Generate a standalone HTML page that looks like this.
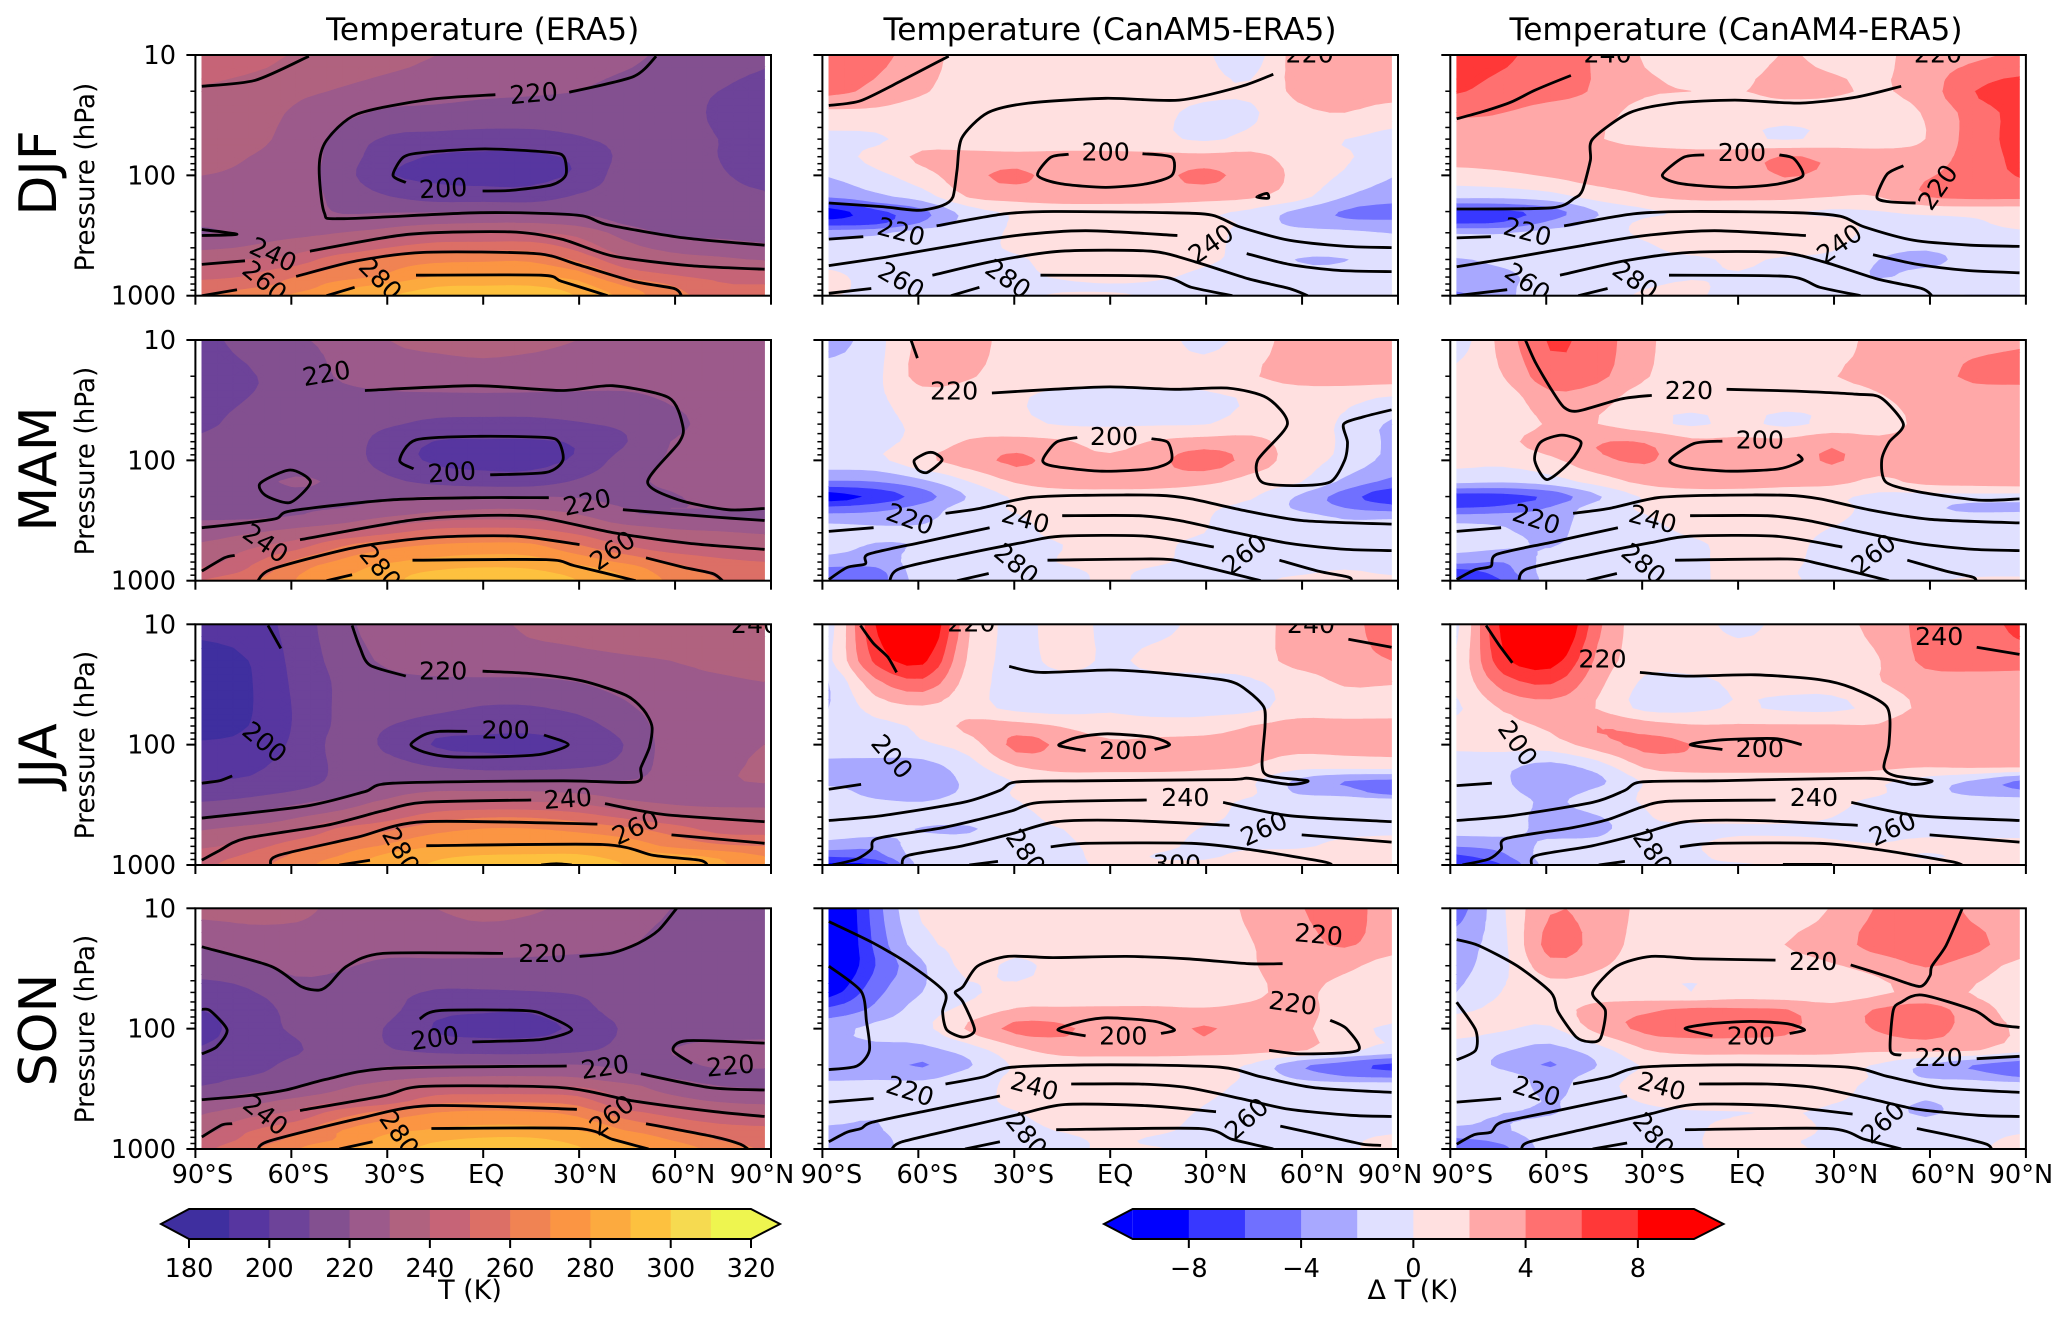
<!DOCTYPE html>
<html>
<head>
<meta charset="utf-8">
<title>Temperature climatology and model biases</title>
<style>
html,body{margin:0;padding:0;background:#fff;width:2067px;height:1321px;overflow:hidden}
svg{display:block}
text{font-family:"DejaVu Sans","Liberation Sans",sans-serif;fill:#000}
</style>
</head>
<body>
<svg id="chart" xmlns="http://www.w3.org/2000/svg" width="2067" height="1321" viewBox="0 0 2067 1321"></svg>
<script>
const lats=[-88,-73.33,-58.67,-44,-29.33,-14.67,0,14.67,29.33,44,58.67,73.33,88];
const levels=[10,20,30,50,70,100,150,200,250,300,400,500,700,850,1000];
const seasons=['DJF','MAM','JJA','SON'];
const models=['ERA5','CanAM5','CanAM4'];
const columnTitles=['Temperature (ERA5)','Temperature (CanAM5-ERA5)','Temperature (CanAM4-ERA5)'];
const tempLevels=[180,190,200,210,220,230,240,250,260,270,280,290,300,310,320];
const tempColors=['#3f2f9f','#5736a0','#6d4399','#835090','#9c5a8b','#b0627f','#c66477','#dc6f66','#f08353','#fb9543','#fcaa3f','#fdc13f','#f6da50','#eef54f'];
const diffLevels=[-10,-8,-6,-4,-2,0,2,4,6,8,10];
const diffColors=['#0000ff','#3838ff','#7070ff','#a8a8ff','#e0e0ff','#ffe0e0','#ffa8a8','#ff7070','#ff3838','#ff0000'];
const tempTicks=[180,200,220,240,260,280,300,320];
const diffTicks=[-8,-4,0,4,8];
const latTicks=[-90,-60,-30,0,30,60,90];
const latTickLabels=['90°S','60°S','30°S','EQ','30°N','60°N','90°N'];
const pressureTicks=[10,100,1000];
const pressureMinorTicks=[20,30,40,50,60,70,80,90,200,300,400,500,600,700,800,900];

const field_DJF_ERA5=[
[250,245,239,236,233,230,228,226,224,222,218,214,211],
[238,235,232,229,226,224,222,221,220,217,214,210,208],
[236,233,229,223,218,217,216,216,215,214,213,209,207],
[235,232,227,216,208.5,207,206,206,209,212,212,210,207],
[233,230,226,215,204,199,198,198,202,212,212,210,206],
[230,228,225,214,200.5,198,197,197,201.5,214,213,211,207],
[226,225,224,217,210,205,204.5,204.5,211,214,214,213,211],
[222,223,224,219,219,219,220,219,218,216,215,214,213],
[221,222,224,224,227,229,230,230,227,219,216,214,214],
[219,224,227,230,234,238,240,240,237,226,218,217,216],
[228,231,236,241,250,256,256,256,247,234,227,225,222],
[237,240,244,257,264,267,268,268,258,242,235,232,229],
[247,251,260,266,272,281,281,281,276,259,252,247,246],
[256,259,264,277,284,290,291,291,285,271,261,252,251],
[260,263,272,281,289.5,293,296,296,289.5,277,263,258,257]];
const field_MAM_ERA5=[
[208,213,219,222,230,232,233,232,230,227,226,225,224],
[206,209,215,221,224,225,226,225,224,224,224,223,223],
[208,210,214,217,218,218,218,218,218,218,221,222,222],
[209,212,214,214,211,207.5,207,207,209,212,218,222,222],
[211,213,214,214,206,199.5,199,199,201,209,220,222,222],
[213,214,215,215,205,198.5,197,197,201.5,214,221,224,225],
[215,217,221,218,212,207,205,205,211,217,222,225,225],
[216,217,217,218,219,220,220,220,219,217,219,223,224],
[216,216,219,220,223,227,229,229,226,220,220,220,220],
[219,219,221,225,231,236,238,237,233,223,221,220,219],
[225,229,234,240,248,255,256,255,248,239,233,231,229],
[231,237,244,258,266,270,272,271,260,249,241,238,236],
[236,247,262,272,279,283,285,284,277,268,259,253,250],
[244,252,268,277,286,291,293,292,286,278,265,258,255],
[250,258,270,281,288,294,296,296,290,280,268,260,256]];
const field_JJA_ERA5=[
[192,195,204,217,225,226,228,231,232,234,236,238,241],
[187,190,203,214,222,225,226,227,228,229,230,232,233],
[186,189,202,212,217,218,218,218,220,224,228,229,230],
[186,189,201,212,214,212,209,209,212,218,225,227,228],
[187,190,201,212,210,205,203,203,206,214,224,227,228],
[191,193,202,213,208,199,198,197,201,210,224,227,230],
[197,198,204,212,213,209,206,206,208,213,224,228,231],
[200,201,205,213,218,219,220,220,220,220,223,228,231],
[205,207,211,217,226,231,231,231,229,226,224,224,225],
[210,213,218,224,233,240,240,240,238,232,228,226,226],
[220,223,229,236,246,255,259,259,255,248,241,239,238],
[229,233,238,252,258,266,270,270,267,262,255,246,245],
[238,245,256,264,272,280,281,281,281,277,268,262,260],
[245,252,262,271,283,288,291,292,292,286,283,278,270],
[248,256,265,277,286,291,296,300,298,290,285,282,272]];
const field_SON_ERA5=[
[233,233,232,228,228,230,232,231,228,225,220,216,214],
[221,225,226,226,225,225,225,224,223,221,216,213,211],
[215,217,223,221,217,217,217,217,216,215,214,212,211],
[205,209,215,215,212.5,209,209,209.5,210.5,213,213,213,212],
[200,206,212,214,212,203,201,201,207,213,214,213,213],
[196,206,211,214,209,199,197,197,202,211,214,215,215],
[201,206,209,214,210.5,207,206,206,208,213,220,223,224],
[204,207,212,216,219,220,220,220,220,218,218,221,221],
[208,210,214,220,226,229,230,230,229,222,219,218,218],
[210,215,218,228,235,240,240,240,239,233,225,220,219],
[221,226,233,239,245,256,258,258,255,240,234,229,227],
[229,236,242,255,264,270,272,271,267,254,246,240,238],
[236,249,257,270,277,281,283,283,280,270,262,255,253],
[243,253,263,272,284,289,292,292,287,278,270,260,257],
[248,258,269,281,287,292,296,296,291,283,277,266,259]];
const field_DJF_CanAM5=[
[5,4.5,3,1,1,1,1,0.5,0.3,-1,3,4,3.5],
[4.5,3.5,2.2,1,1,1,1,1,0.5,0.3,2.5,3,3],
[1.5,1.5,1,1,0.2,0.1,1,0.5,-0.5,-0.3,1.5,2,1],
[-0.5,-0.3,0.8,0.8,0.8,0.8,0.8,0.5,-0.3,0.5,0.8,0,-0.5],
[-0.8,0.6,2.4,2.6,2.5,2.5,2.5,2.5,2.5,2.5,1.2,0.2,-0.7],
[-1.9,-0.6,1.2,3.4,4.4,3,2.9,3.5,4.4,3.2,1.5,-0.3,-1.9],
[-3.8,-2.5,-1,2.2,2.8,3,3,3,2.8,2.3,0.8,-2,-3],
[-9,-6.5,-4.5,-1,0.4,0.8,0.8,0.7,0.3,-0.4,-2.5,-4.2,-5],
[-7,-6.5,-3.8,-1.2,0.2,0.6,0.6,0.6,0.4,-0.4,-2.8,-3.5,-3.5],
[-3,-2.5,-1,-0.8,0.3,0.8,0.8,0.8,0.5,-0.5,-1,-1.5,-2.1],
[-0.8,-0.8,-0.8,-0.7,0.3,0.8,0.8,0.8,0.4,-0.5,-0.9,-0.9,-0.8],
[-0.8,-0.8,-0.8,-0.8,-0.3,0.8,0.8,0.7,0.2,-0.5,-2.1,-2.1,-1],
[0.5,-0.8,-0.8,-0.8,-0.4,0.2,0.8,0.2,-0.3,-0.6,-1,-1,-0.8],
[0.5,-0.6,-0.6,-0.6,-0.6,-0.5,-0.4,-0.4,-0.5,-0.5,-0.7,-0.7,-0.7],
[0.1,-0.5,-0.3,-0.5,-0.5,0.3,0.3,-0.3,-0.5,-0.5,-0.6,-1,-0.6]];
const field_DJF_CanAM4=[
[7.5,6.5,4.8,3.8,1.8,1,1,2.1,1.5,1.5,3,3.5,4.3],
[6.2,5,4.5,3.8,2.3,2,1.9,2.5,2.3,1.8,3,5.9,7],
[4.2,4,3.5,3,1,0.8,0.8,0.8,0.8,0.8,2.2,4.8,6.6],
[3.5,3.5,3.5,2.2,0.8,0.5,0.5,-0.2,0.5,0.7,2,4.8,6.6],
[3,3,3.5,3.9,3.5,3,3,4.1,3.5,3,3,4.8,6.4],
[1,1.5,2.2,3,3,3,3,4.1,3.5,3,3.8,4.8,6.1],
[-1.5,-1.5,-0.8,0.8,1.9,2.5,2.5,2.5,2,2,4,4.5,4.5],
[-7,-6.5,-5,-2,-0.4,0.2,0.3,0.2,-0.3,-0.1,0.5,0.7,0.8],
[-6.2,-5.8,-3.5,-1.5,0.4,0.8,0.8,0.8,0.6,-0.5,-0.6,-0.3,0.5],
[-2.2,-2.2,-1.2,-0.8,0.3,0.8,0.8,0.8,0.6,-0.5,-0.7,-0.7,-0.3],
[-1,-0.8,-0.8,-0.8,-0.3,0.6,0.6,0.6,0.2,-1.2,-1.7,-0.8,-0.8],
[-2.2,-1.5,-1,-0.8,-0.5,-0.3,0.2,-0.2,-0.5,-2,-2.8,-1,-0.8],
[-3,-2.5,-1,-0.8,-0.5,-0.1,-0.1,-0.4,-0.6,-2.2,-1,-0.8,-0.8],
[-3.5,-2.5,-0.8,-0.8,-0.1,0.2,-0.4,-0.6,-0.7,-0.8,-0.8,-0.8,-0.8],
[-4.5,-2.5,-0.9,-0.7,0.2,0.2,-0.5,-0.6,-0.7,-1,-1.8,-2.2,-2.2]];
const field_MAM_CanAM5=[
[-3,-0.8,2.6,3,0.8,0.8,0.5,0.7,-0.6,0.8,3,3.2,3.2],
[-1,-0.5,2.8,2.2,0.8,0.8,0.8,0.8,0.8,1.8,2.8,3,3],
[-0.5,-0.3,1,0.8,0.2,-0.5,-0.6,-0.6,-0.4,0.2,0.8,0.6,-0.2],
[-0.5,-0.4,0.3,0.7,0.5,-0.2,-0.2,-0.2,-0.1,0.7,0.8,-0.3,-2.3],
[-0.7,-0.5,0.6,2.2,2.6,2.2,1.2,2.2,2.8,2.6,1,-0.3,-2.4],
[-0.8,-0.5,1.5,3,4.4,3,2.4,3.5,5,3.2,1,-0.6,-2.6],
[-4.2,-4,-2.5,0,2.2,3,3,3,2.5,1.2,0.2,-2.5,-4.5],
[-9,-7.5,-5,-1.8,0.3,0.8,0.9,0.8,0.5,0.2,-2.2,-5,-7.5],
[-5.5,-4.8,-3.2,-1,0.2,0.8,0.8,0.8,0.2,-0.5,-2.3,-4,-5],
[-3,-3,-2.5,-0.8,-0.2,0.7,0.8,0.7,0.1,-0.6,-1,-2.2,-2.2],
[-0.8,-1.4,-1.5,-0.8,-0.5,0.5,0.8,0.5,0,-0.6,-0.8,-0.8,-0.8],
[-0.9,-2.2,-1.8,-0.8,-0.6,0,0.8,0.3,-0.4,-0.7,-0.7,-0.7,-0.7],
[-3,-3.2,-1,-0.7,-0.6,0.1,0.6,0.2,-0.5,-0.7,-0.7,-0.7,-0.7],
[-5,-4.8,-0.8,-0.6,-0.5,-0.4,0.3,-0.4,-0.6,-0.5,-0.3,0.2,-0.3],
[-6,-5,-1,-0.6,-0.5,-0.4,0.2,-0.4,-0.5,-0.4,0.4,0.6,0.5]];
const field_MAM_CanAM4=[
[-1,2.8,6.2,5,2.5,0.8,0.4,0.8,0.9,2.8,3.2,3.5,3.8],
[0.5,2,5.2,4.5,2.2,0.8,0.8,0.8,1.9,2.6,3.2,4.3,4.5],
[0.8,1,3.4,2.8,1,0.8,0.8,0.8,0.8,1.8,2.8,3,3],
[0.8,0.8,2.2,2,0.8,-0.3,0.5,-0.4,0.5,1,2.6,3,3],
[0.8,1.5,3,3.9,3.9,2.5,2.5,2.5,3.5,2.5,3,3,3],
[0.5,0.5,1.5,3.5,4.2,3,3,3,4.2,3,3,3,3],
[-1.5,-1.8,-1,0.8,2.5,3,3,2.6,2.6,1.5,2.6,2.8,3],
[-7,-6.8,-5.5,-2.3,0.2,0.8,0.8,0.8,0.4,-0.5,-0.8,-0.8,-0.9],
[-6,-5.5,-3.8,-1,0.2,0.8,0.9,0.9,0.5,-0.6,-1.5,-2.6,-2.6],
[-3,-2.8,-3,-0.9,-0.2,0.8,0.8,0.8,0.3,-0.6,-0.8,-1,-0.8],
[-0.8,-1.7,-2.6,-0.8,-0.6,0.2,0.7,0.6,-0.2,-0.7,-0.7,-0.7,-0.7],
[-1,-1.5,-2.2,-0.8,-0.6,-0.3,0.5,0.4,-0.4,-0.7,-0.7,-0.7,-0.7],
[-3.5,-4,-1.2,-0.7,-0.7,-0.3,0.4,0.3,-0.5,-0.7,-0.7,-0.7,-0.7],
[-7,-5,-1,-0.6,-0.5,-0.3,0.4,0.2,-0.6,-0.6,-0.5,-0.5,-0.5],
[-7,-6,-1,-0.6,-0.5,-0.3,0.4,0.3,-0.6,-0.6,-0.3,0.3,0.4]];
const field_JJA_CanAM5=[
[-1,8,11,2.1,-0.5,0.8,-0.5,-0.5,0.5,0.8,3,3.3,5],
[-0.5,6.5,8.5,1.5,-0.5,0.5,-0.2,0.4,0.7,0.8,2.8,3.2,4],
[-2,3.5,5.5,1,-0.6,-0.5,-0.5,-0.5,-0.5,-0.2,0.8,2.3,2.2],
[-2,0.8,1.6,0.8,-0.5,-0.7,-0.2,-0.6,-0.6,-0.5,0.8,0.8,0.9],
[-0.8,-0.5,0.4,2.5,2.7,1.8,0.8,0.8,0.9,2,2.8,2.8,2.8],
[-0.8,-0.6,-0.3,1,4.6,3.5,2.4,2.6,2.8,2.8,2.6,2.6,2.6],
[-2.6,-2.8,-2.7,-0.8,2,2.8,2.8,2.8,2.5,2,0.8,0.9,1],
[-2.8,-3,-3,-1.6,0.1,0.8,0.6,0.6,0.5,0.3,-2.4,-4,-4.5],
[-1,-2.8,-3,-1.5,0.2,0.8,0.8,0.8,0.8,0.3,-2.3,-3,-5],
[-0.7,-1.6,-2,-0.9,-0.1,0.8,0.8,0.8,0.8,-0.4,-0.6,-0.7,-0.7],
[-0.6,-0.6,-0.8,-0.7,-0.4,0.4,0.8,0.8,0.4,-0.5,-0.7,-0.7,-0.7],
[-0.7,-1,-2.2,-2.3,-0.5,0,0.8,0.6,-0.1,-0.5,-0.6,-0.5,-0.5],
[-3,-3.5,-0.8,-0.6,-0.6,-0.3,0.5,0.3,-0.3,-0.2,-0.2,0.4,0.8],
[-6,-5,-0.9,-0.5,-0.5,-0.4,0.4,-0.1,-0.2,0.4,0.6,0.7,0.7],
[-8.5,-8,-1,-0.5,-0.5,-0.3,0.2,0.3,0.3,0.6,0.7,0.7,0.7]];
const field_JJA_CanAM4=[
[-0.5,8.8,12.2,4.5,0.8,0.8,-0.5,0.5,1,2.8,4.5,4.8,6.5],
[0.3,7.5,9,3.5,0.8,0.8,0.8,0.8,0.8,1.9,4.5,5,5],
[0.5,5,6.3,2.6,-0.3,-0.4,0.3,0.6,0.7,1.9,3,3,3],
[-0.3,2.2,3,1.9,-0.5,-0.5,0.2,-0.3,-0.4,0.6,2.5,3,3],
[0.6,1.5,2.3,4,3,2.2,2.2,2.2,2.2,2.2,4,3.3,3],
[0.3,0.7,1,3,4.5,4,3,3,3,3,3,3,3],
[-0.8,-1.5,-2.6,-1,2.3,3,3,3,3,2.6,2.2,2.5,2.5],
[-0.9,-1.8,-3,-2.5,0.2,0.7,0.7,0.7,0.6,0.3,-0.8,-2.2,-4.2],
[-0.9,-1.5,-2.8,-1.5,0.2,0.9,0.9,0.9,0.8,0.2,-1.2,-2.6,-3.5],
[-0.7,-0.9,-2.4,-0.8,0.1,0.8,0.8,0.9,0.5,-0.5,-0.7,-0.7,-0.7],
[-0.7,-1,-2.8,-2.2,-0.2,0.5,0.7,0.7,0,-0.6,-0.6,-0.7,-0.7],
[-1,-1.2,-2.7,-2.6,-0.5,-0.5,-0.4,-0.4,-0.4,-0.5,-0.5,-0.5,-0.5],
[-4,-3.2,-1.5,-1.2,-0.5,-0.2,0.7,0.7,0.3,0.1,0.4,0.4,0.4],
[-6.5,-4.5,-0.9,-0.5,-0.4,-0.3,0.5,0.5,0.6,0.6,-0.2,0.4,0.6],
[-8,-6,-1,-0.5,-0.4,-0.2,-0.2,0.2,0.5,0.6,0.6,0.7,0.7]];
const field_SON_CanAM5=[
[-12,-5,0.4,0.9,0.9,0.9,0.3,0.9,0.9,2.4,3.8,4.8,3],
[-12,-5.5,-0.8,0.7,0.9,0.9,0.9,0.9,0.9,1.9,3.2,4.2,3],
[-11.5,-6,-2.3,0.6,-0.4,0.7,0.9,0.9,0.9,1.8,3,2.5,1],
[-9,-4.6,-2,-0.3,0.5,0.8,0.8,0.8,0.8,1.5,2.6,1,0.8],
[-5.5,-3.5,-1,0.6,2.2,2.3,2.3,2.3,2.2,2.5,2.8,1,0.8],
[-2.6,-1.5,-0.6,2.3,4.5,4.3,3,3,4.2,3,2.5,0.7,-0.3],
[-2.6,-2.5,-2.6,-1,1.5,2.8,2.8,2.8,2.8,2.6,2.3,0.5,-0.6],
[-3,-3,-4.2,-2.2,0.3,0.8,0.8,0.8,0.6,-0.2,-3.5,-5,-6.5],
[-3,-2.7,-2.7,-1,0.3,0.8,0.8,0.8,0.6,-0.3,-2.6,-4,-4.5],
[-0.9,-0.8,-1.2,-0.5,0.3,0.9,0.9,0.9,0.5,-0.4,-0.8,-0.9,-0.9],
[-0.8,-0.8,-0.7,-0.6,0.4,0.9,0.9,0.9,0.1,-0.6,-0.7,-0.7,-0.7],
[-1.2,-1.8,-0.8,-0.6,-0.1,0.7,0.8,0.7,-0.2,-0.6,-0.7,-0.7,-0.7],
[-2.3,-2.2,-0.9,-0.6,-0.4,0.1,0.7,0.3,-0.5,-0.6,-0.6,-0.6,-0.3],
[-2.6,-2.5,-1,-0.6,-0.4,-0.4,0.3,-0.3,-0.6,-0.6,-0.5,-0.3,0.4],
[-2.8,-2.6,-1,-0.5,-0.4,-0.3,0.2,0.1,-0.4,-0.5,-0.5,-0.3,0.6]];
const field_SON_CanAM4=[
[-5,-0.2,3.8,3.2,1.5,0.8,0.2,0.8,2.1,4.2,5.3,3.5,2.8],
[-3,-0.5,4.8,3.2,1.2,0.9,0.9,2,3,4.8,5.5,4.6,3],
[-2.6,-0.5,3.2,2.3,0.9,0.9,0.9,1,1.8,2.7,4.1,3,1.5],
[-2,0.1,0.8,0.8,0.6,0,0.7,0.5,0.7,1.6,2.6,1.9,0.8],
[-0.3,0.5,1,2.8,3.6,4.4,4.3,4.1,2.8,4.2,4.8,3,1.2],
[0.6,0.2,-0.3,2.6,4.4,4.8,4.8,4.4,3,4.2,5,3,1.8],
[-0.8,-1.8,-2.7,-0.9,1.9,2.6,2.6,2.6,2.5,2.3,2.5,2.2,0.9],
[-0.9,-2.5,-4.2,-2,0.2,0.8,0.8,0.8,0.6,-0.2,-2.2,-4,-5.5],
[-0.9,-1.2,-2.8,-1.2,0.5,0.9,0.9,0.9,0.7,-0.3,-2.3,-2.8,-4.2],
[-0.8,-0.8,-2.6,-0.7,0.6,0.9,0.9,0.9,0.5,-0.4,-0.7,-0.8,-0.8],
[-0.7,-0.7,-2.2,-0.7,0.1,0.7,0.9,0.8,0.1,-0.5,-2.1,-0.7,-0.6],
[-1.5,-2,-2.2,-0.7,-0.4,-0.2,-0.1,0.1,-0.3,-0.8,-2.4,-0.8,-0.6],
[-2.3,-2.2,-0.9,-0.6,-0.5,-0.3,0.7,0.7,-0.3,-0.6,-0.6,-0.5,-0.2],
[-4.5,-3.5,-1,-0.6,-0.5,-0.2,0.6,0.2,-0.4,-0.6,-0.5,-0.4,0.3],
[-5,-4.5,-1,-0.5,-0.4,-0.2,0.5,0.3,-0.3,-0.4,-0.4,-0.3,0.6]];

/* Contour lines: [kelvin, [[latitude, log10(hPa)], ...]] */
const contours_DJF_ERA5=[
[240,[[-88,1.26],[-71.3,1.21],[-54.5,1.01]]],
[220,[[54.1,1.01],[46.9,1.18],[26.9,1.31]]],
[220,[[3.8,1.33],[-17,1.37],[-39.4,1.49],[-49,1.71],[-51.3,1.93],[-49.7,2.31],[-44.2,2.36],[-1,2.31],[29.3,2.33],[38.9,2.41],[62.9,2.52],[88,2.58]]],
[220,[[-88,2.45],[-77,2.49],[-88,2.5]]],
[240,[[-88,2.74],[-74.5,2.71]]],
[240,[[-54.2,2.63],[-23.4,2.49],[8.6,2.47],[24.5,2.53],[40.5,2.67],[64.5,2.75],[88,2.78]]],
[260,[[-88,3],[-77,2.95]]],
[260,[[-58.5,2.84],[-39.4,2.71],[-18.6,2.64],[16.5,2.65],[29.3,2.74],[46.9,2.88],[59.7,2.94],[62,3]]],
[280,[[-49,3],[-40.2,2.93]]],
[280,[[-21,2.83],[18.1,2.83],[24.5,2.88],[38.9,3]]],
[200,[[-24.2,2.06],[-28.2,2],[-25,1.85],[-18.6,1.81],[0.6,1.78],[21.3,1.81],[25.3,1.85],[25.8,2],[21.3,2.08],[8.6,2.125],[-0.2,2.13]]]];
const labels_DJF_ERA5=[[220,15.8,1.32,-5],[200,-12.5,2.11,-3],[240,-65.7,2.66,25],[260,-68.4,2.88,40],[280,-32.2,2.86,45]];
const contours_DJF_CanAM5=[
[240,[[-88,1.42],[-78,1.38],[-65,1.21],[-50.5,1.01]]],
[220,[[51,1.16],[41,1.26],[21.6,1.375],[-1.4,1.36],[-25.6,1.4],[-38.3,1.48],[-46.4,1.69],[-47.9,1.96],[-49.2,2.18],[-52.4,2.25],[-60,2.29],[-71.5,2.26],[-88,2.23]]],
[200,[[-13,1.825],[-18.6,1.85],[-22.7,2],[-15.4,2.07],[-1.4,2.1],[11.4,2.07],[19.3,2],[19.3,1.85],[10.1,1.82]]],
[220,[[45.8,2.18],[49,2.15],[49.4,2.19],[45.8,2.18]]],
[220,[[-88,2.53],[-77.2,2.51]]],
[220,[[-54.3,2.42],[-33.2,2.32],[-17.9,2.3],[17.8,2.31],[31.8,2.33],[40.7,2.43],[56,2.54],[73.9,2.59],[88,2.6]]],
[240,[[-88,2.75],[-70.2,2.68],[-48.5,2.58],[-29.4,2.5],[-7.7,2.46],[21,2.5]]],
[240,[[42.7,2.65],[56,2.74],[71.4,2.79],[88,2.8]]],
[260,[[-88,2.98],[-74.7,2.94]]],
[260,[[-55.6,2.83],[-35.8,2.71],[-15.4,2.63],[12.7,2.63],[26.7,2.72],[43.3,2.86],[56,2.94],[61.8,3]]],
[280,[[-49.8,3],[-40.9,2.93]]],
[280,[[-21.8,2.83],[15.2,2.84],[25.4,2.93],[38.2,3]]]];
const labels_DJF_CanAM5=[[220,62.4,0.99,0],[200,-1.4,1.805,0],[220,-65.4,2.47,15],[240,31.6,2.57,-35],[260,-65.4,2.875,30],[280,-32,2.86,35]];
const contours_DJF_CanAM4=[
[240,[[-88,1.53],[-79.8,1.47],[-70.9,1.39],[-63.3,1.29],[-52.3,1.17]]],
[220,[[51,1.26],[37,1.35],[19.3,1.4],[-1,1.375],[-20,1.4],[-34,1.48],[-45.5,1.7],[-46.2,1.875],[-48.7,2.125],[-51.2,2.19],[-58.2,2.27],[-88,2.28]]],
[200,[[-10.6,1.83],[-17,1.85],[-23.7,2],[-17.6,2.07],[-2.3,2.1],[11.7,2.075],[20.2,2.005],[17.4,1.86],[12.9,1.83]]],
[220,[[51.7,1.92],[46.6,1.99],[43.4,2.18],[47.2,2.22],[55.5,2.23]]],
[220,[[-88,2.52],[-77.3,2.51]]],
[220,[[-54.4,2.42],[-32.8,2.32],[-15,2.3],[18,2.31],[32,2.34],[39.6,2.43],[54.9,2.54],[72.6,2.58],[88,2.59]]],
[240,[[-88,2.76],[-69.7,2.68],[-48.1,2.58],[-29,2.5],[-7.4,2.46],[21.2,2.5]]],
[240,[[42.2,2.66],[56.1,2.74],[71.4,2.79],[88,2.81]]],
[260,[[-88,3],[-72.2,2.95]]],
[260,[[-55.7,2.83],[-35.4,2.71],[-15,2.64],[13,2.64],[26.9,2.72],[43.4,2.86],[57.4,2.94],[60.6,3]]],
[280,[[-50,3],[-40.8,2.94]]],
[280,[[-21.6,2.83],[15.5,2.84],[25.6,2.93],[38.3,3]]]];
const labels_DJF_CanAM4=[[240,-40.8,0.99,0],[220,62.5,0.99,0],[200,1.2,1.81,0],[220,62.5,2.1,-55],[220,-65.9,2.47,15],[240,31.7,2.57,-35],[260,-65.9,2.89,35],[280,-32.2,2.87,35]];

const contours_MAM_ERA5=[
[220,[[-37,1.42],[-2.6,1.38],[24.5,1.42],[40.5,1.38],[58.1,1.48],[62.4,1.71],[61.3,1.85],[51.4,2.18],[61.3,2.33],[76.5,2.41],[88,2.4]]],
[220,[[-69.7,2.19],[-60.4,2.08],[-54,2.18],[-60.4,2.35],[-68.1,2.29],[-69.7,2.19]]],
[220,[[-88,2.56],[-65.7,2.49],[-60.1,2.42],[-29.8,2.33],[-2.6,2.31],[20.5,2.31]]],
[220,[[43.7,2.41],[71.7,2.47],[88,2.5]]],
[200,[[-21.8,2.07],[-26.1,2],[-21,1.83],[-1,1.8],[19.7,1.81],[23.7,1.85],[24.9,2],[19.7,2.1],[2.2,2.12]]],
[240,[[-88,2.92],[-80.9,2.81],[-77.7,2.79]]],
[240,[[-57.3,2.66],[-23.4,2.5],[-2.6,2.46],[16.5,2.47],[40.5,2.6],[64.5,2.69],[88,2.74]]],
[260,[[-70.5,3],[-65.7,2.9],[-39.4,2.72],[-15.4,2.64],[10.2,2.63],[30.1,2.7]]],
[260,[[50.9,2.81],[62.9,2.89],[71.7,2.94],[74.9,3]]],
[280,[[-49,3],[-41,2.95]]],
[280,[[-22.1,2.83],[19.7,2.825],[28.5,2.875],[47.7,3]]]];
const labels_MAM_ERA5=[[220,-49,1.28,-10],[200,-9.8,2.1,-4],[220,32.5,2.35,-12],[240,-68.1,2.69,35],[260,40.5,2.75,-35],[280,-32.2,2.89,50]];
const contours_MAM_CanAM5=[
[240,[[-62.3,1],[-60.3,1.15]]],
[220,[[-37,1.44],[-17.9,1.41],[0,1.39],[20.3,1.41],[36.9,1.4],[49,1.48],[55.4,1.7],[46.1,2],[47.4,2.18],[57.3,2.21],[68.8,2.18],[73.3,2],[74.2,1.85],[73,1.7],[79,1.64],[88,1.58]]],
[220,[[-61.3,2],[-57.5,1.94],[-54.9,1.94],[-52.6,2],[-57.2,2.1],[-60,2.08],[-61.3,2]]],
[200,[[-10.3,1.81],[-16.9,1.85],[-21.1,2],[-17.3,2.05],[-2.6,2.09],[12.7,2.07],[19.1,2],[18,1.85],[12.9,1.82]]],
[220,[[-88,2.59],[-74,2.56]]],
[220,[[-51.5,2.44],[-40.9,2.4],[-25.6,2.31],[-7.7,2.29],[15.2,2.29],[25.4,2.32],[40.7,2.41],[59.9,2.5],[88,2.53]]],
[240,[[-88,2.99],[-82.3,2.89],[-76.6,2.86],[-75.6,2.78],[-58.8,2.68],[-37.7,2.56]]],
[240,[[-15,2.46],[8.9,2.46],[21.6,2.5],[35.6,2.58],[56,2.69],[73.9,2.74],[88,2.75]]],
[260,[[-69,3],[-65.8,2.9],[-46,2.78],[-26.9,2.68],[-15.4,2.63],[11.4,2.63],[32.4,2.72]]],
[260,[[52.9,2.83],[65,2.92],[74.5,2.97],[75.4,3]]],
[280,[[-47.9,3],[-38,2.94]]],
[280,[[-19.6,2.83],[15.2,2.82],[25.4,2.86],[47.1,3]]]];
const labels_MAM_CanAM5=[[220,-48.8,1.425,0],[200,1.2,1.8,0],[220,-62.6,2.49,20],[240,-26.5,2.49,15],[260,42,2.78,-38],[280,-29.4,2.86,40]];
const contours_MAM_CanAM4=[
[220,[[-66.5,1],[-63.3,1.19],[-58.2,1.42],[-54.4,1.56],[-50,1.59],[-36.6,1.49],[-27,1.46]]],
[220,[[-3.6,1.41],[18,1.425],[37,1.45],[44.7,1.48],[51.7,1.7],[47.2,1.85],[44.9,2],[46.2,2.18],[56.1,2.26],[75.2,2.33],[88,2.32]]],
[220,[[-61.8,1.85],[-55.1,1.79],[-49.1,1.85],[-52.5,2.01],[-59.8,2.16],[-63.6,2],[-61.8,1.85]]],
[200,[[-4.9,1.84],[-13.8,1.86],[-21.4,2],[-16.3,2.06],[-2.3,2.09],[12.9,2.07],[19.9,2],[18.6,1.95]]],
[220,[[-88,2.59],[-74.1,2.56]]],
[220,[[-51.6,2.44],[-40.4,2.4],[-25.2,2.31],[-7.4,2.29],[15.5,2.29],[25.6,2.32],[40.9,2.41],[59.9,2.49],[88,2.52]]],
[240,[[-88,2.99],[-82.4,2.91],[-77.3,2.88],[-75.4,2.78],[-58.2,2.68],[-37.6,2.56]]],
[240,[[-15,2.46],[9.1,2.46],[21.8,2.5],[35.8,2.58],[56.1,2.69],[73.9,2.74],[88,2.75]]],
[260,[[-68.6,3],[-65.9,2.9],[-45.5,2.78],[-26.5,2.68],[-15,2.63],[11.7,2.63],[32.6,2.72]]],
[260,[[52.9,2.83],[65,2.92],[73.3,2.97],[74.5,3]]],
[280,[[-47.4,3],[-37.9,2.94]]],
[280,[[-19.7,2.83],[15.5,2.82],[25.6,2.86],[47.2,3]]]];
const labels_MAM_CanAM4=[[220,-15.4,1.42,0],[200,6.8,1.83,0],[220,-63.1,2.49,18],[240,-26.7,2.49,15],[260,42.4,2.78,-38],[280,-29.6,2.86,40]];

const contours_JJA_ERA5=[
[200,[[-67.3,1.01],[-63.3,1.2]]],
[200,[[-88,2.32],[-82.5,2.3],[-78.5,2.26]]],
[220,[[-41,1.01],[-38.6,1.19],[-35.4,1.34],[-24.2,1.43]]],
[220,[[-0.2,1.39],[15,1.41],[31,1.47],[44.7,1.59],[50.1,1.71],[52.8,1.85],[52,2.02],[49.3,2.19],[47.7,2.31],[24.5,2.3],[-28.2,2.32],[-37,2.39],[-55.3,2.51],[-88,2.61]]],
[200,[[-5,1.89],[-13.8,1.89],[-18.6,1.92],[-22.6,2],[-18.6,2.06],[-10.6,2.1],[5.4,2.1],[18.1,2.08],[26.6,2],[19,1.92]]],
[240,[[-88,2.96],[-82.5,2.88],[-74.5,2.78],[-49,2.67],[-31.4,2.55],[-18.6,2.48],[15,2.46]]],
[240,[[38.1,2.49],[56.5,2.58],[88,2.64]]],
[260,[[-66.5,3],[-64.1,2.92],[-39.4,2.77],[-18.6,2.64],[35.7,2.66]]],
[260,[[58.9,2.75],[88,2.82]]],
[280,[[-45,3],[-35.4,2.96]]],
[280,[[-17.8,2.84],[37.3,2.83],[53.3,2.92],[67.7,2.96],[70.1,3]]],
[300,[[18.1,3],[22.9,2.99],[27.7,3]]]];
const labels_JJA_ERA5=[[200,-68.4,1.98,40],[220,-12.5,1.39,0],[200,7,1.88,0],[240,26.5,2.45,-4],[260,47.7,2.69,-25],[280,-25.8,2.88,60],[240,85,1.0,0]];
const contours_JJA_CanAM5=[
[200,[[-78.1,1.01],[-74,1.16],[-69.6,1.27],[-66.8,1.4]]],
[220,[[-31.6,1.35],[-21.8,1.4],[0,1.38],[17.8,1.41],[36.9,1.47],[43.3,1.56],[48.1,1.69],[48.4,1.85],[47.5,2.17],[49.7,2.26],[61.8,2.3],[56,2.33],[43.3,2.28],[36.9,2.29],[-7.7,2.3],[-29.4,2.31],[-34.5,2.38],[-46,2.48],[-71.5,2.59],[-88,2.63]]],
[200,[[-88,2.37],[-77.9,2.33]]],
[200,[[-7.7,2.05],[-14.1,2.02],[-16,2],[-10.3,1.94],[-0.8,1.91],[13.2,1.94],[18.6,2],[13.9,2.04]]],
[240,[[-86.8,3],[-79.2,2.95],[-74.7,2.87],[-72.8,2.78],[-52.4,2.69],[-40.9,2.62],[-30.7,2.55],[-21.8,2.48],[11.4,2.46]]],
[240,[[35.3,2.48],[56,2.59],[88,2.64]]],
[240,[[74.5,1.125],[88,1.19]]],
[260,[[-65.1,3],[-63.2,2.92],[-46,2.84],[-30.7,2.74],[-16.7,2.64],[5,2.63],[37.3,2.67]]],
[260,[[59.9,2.75],[88,2.81]]],
[280,[[-44.1,3],[-35.1,2.97]]],
[280,[[-18.6,2.85],[-7.7,2.82],[25.4,2.82],[43.3,2.87],[66.2,2.97],[69.4,3]]]];
const labels_JJA_CanAM5=[[220,-43.4,0.99,0],[240,62.8,1.0,0],[200,-68.3,2.1,50],[200,4.1,2.05,0],[240,23.5,2.44,0],[260,48.1,2.7,-25],[280,-26.5,2.89,55],[300,20.9,2.99,0]];
const contours_JJA_CanAM4=[
[200,[[-78.8,1.01],[-74.8,1.17],[-70.6,1.32]]],
[220,[[-30.7,1.4],[-16.3,1.43],[5.3,1.42],[25.6,1.46],[35.8,1.53],[46.6,1.69],[47.2,1.99],[45.6,2.19],[49.2,2.26],[60.6,2.3],[54.8,2.33],[41.5,2.28],[-7.4,2.3],[-30.3,2.31],[-35.4,2.38],[-45.5,2.48],[-70.9,2.59],[-88,2.63]]],
[200,[[-88,2.34],[-77,2.32]]],
[200,[[-4.9,2.04],[-15,2],[-4.9,1.96],[11.7,1.95],[19.9,2]]],
[240,[[-86.2,3],[-77.9,2.95],[-74.1,2.87],[-72.5,2.78],[-51.9,2.69],[-40.4,2.62],[-30.3,2.52],[-21.4,2.47],[11.7,2.46]]],
[240,[[35.4,2.48],[56.1,2.59],[88,2.63]]],
[240,[[74.6,1.19],[88,1.25]]],
[260,[[-64.6,3],[-63.1,2.92],[-45.5,2.84],[-30.3,2.74],[-16.3,2.64],[5.3,2.63],[37.4,2.67]]],
[260,[[59.9,2.75],[88,2.81]]],
[280,[[-43.6,3],[-35.4,2.97]]],
[280,[[-18.2,2.85],[-7.4,2.82],[25.6,2.82],[43.4,2.87],[66.3,2.97],[70.1,3]]],
[300,[[14,2.995],[29.4,2.995]]]];
const labels_JJA_CanAM4=[[220,-42.4,1.29,0],[240,62.9,1.1,0],[200,-69,1.99,55],[200,6.8,2.03,0],[240,23.7,2.44,0],[260,48.3,2.7,-25],[280,-26.7,2.89,55]];

const contours_SON_ERA5=[
[220,[[-88,1.32],[-66.5,1.48],[-56.9,1.65],[-51.3,1.68],[-48.1,1.63],[-42.6,1.48],[-31.4,1.375],[6.2,1.375]]],
[220,[[30.1,1.4],[40.5,1.37],[48.5,1.29],[54.9,1.18],[60.5,1]]],
[200,[[-19.9,1.92],[-13.8,1.85],[13.4,1.85],[20.5,1.9],[27.7,2.01],[18.1,2.09],[-3.4,2.11]]],
[200,[[-88,1.84],[-85.4,1.85],[-80.1,2.01],[-83.3,2.15],[-88,2.21]]],
[220,[[-88,2.59],[-74.5,2.56],[-61.7,2.51],[-49,2.42],[-29.8,2.33],[26.1,2.31]]],
[220,[[49.3,2.375],[70.9,2.49],[88,2.51]]],
[220,[[88,2.12],[63.7,2.1],[59.4,2.18],[65.3,2.29]]],
[240,[[-88,2.9],[-81.7,2.8],[-78.5,2.79]]],
[240,[[-57.3,2.68],[-31.4,2.56],[-18.6,2.48],[24.5,2.49],[46.9,2.6],[72.5,2.69],[88,2.73]]],
[260,[[-70.5,3],[-66.5,2.93],[-39.4,2.75],[-17,2.64],[29.3,2.67]]],
[260,[[50.9,2.79],[72.5,2.9],[80.4,2.96],[82.8,3]]],
[280,[[-45,3],[-34.6,2.94]]],
[280,[[-16.2,2.83],[29.3,2.83],[40.5,2.92],[51.7,3]]]];
const labels_SON_ERA5=[[220,18.5,1.375,0],[200,-15.1,2.08,-8],[220,38.1,2.32,-8],[220,77.3,2.31,-5],[240,-68.1,2.72,38],[260,40.2,2.72,-38],[280,-26.3,2.87,55]];
const contours_SON_CanAM5=[
[220,[[-88,1.11],[-74,1.29],[-62,1.48],[-51.7,1.7],[-52.4,1.86],[-51.1,2.01],[-46,2.07],[-42.4,2.01],[-46,1.78],[-48.5,1.7],[-46,1.65],[-41.5,1.48],[-32,1.4],[-17.9,1.41],[5,1.4],[24.2,1.42],[43.3,1.46],[53.9,1.46]]],
[200,[[-88,1.48],[-77.9,1.69],[-76.2,1.94],[-75.3,2.18],[-79.2,2.31],[-88,2.34]]],
[200,[[-7.7,2.06],[-16.4,2.01],[-9,1.94],[-0.8,1.91],[14,1.94],[20.1,2.01],[15.9,2.04]]],
[220,[[68.8,1.93],[73.9,2],[77.5,2.18],[59.9,2.21],[49.7,2.18]]],
[220,[[-88,2.61],[-74,2.58]]],
[220,[[-51.5,2.46],[-39.6,2.4],[-30.7,2.32],[0,2.3],[34.4,2.32],[47.1,2.4],[63.7,2.49],[88,2.53]]],
[240,[[-88,2.94],[-82.3,2.86],[-77.9,2.83],[-74.7,2.78],[-58.8,2.69],[-34.5,2.56]]],
[240,[[-12.2,2.46],[8.9,2.46],[24.2,2.49],[40.7,2.58],[56,2.67],[75.2,2.72],[88,2.73]]],
[260,[[-68.3,3],[-65.1,2.94],[-46,2.82],[-28.1,2.71],[-14.1,2.63],[11.4,2.64],[33.1,2.69]]],
[260,[[53.2,2.81],[68.8,2.9],[79,2.96],[84.7,2.97]]],
[280,[[-45.4,3],[-34.5,2.94]]],
[280,[[-16.9,2.84],[28,2.83],[38.2,2.92],[51,3]]]];
const labels_SON_CanAM5=[[220,65.2,1.22,5],[220,57.1,1.79,8],[200,4.1,2.06,0],[220,-62.6,2.52,18],[240,-23.7,2.48,15],[260,42.7,2.75,-42],[280,-26.2,2.88,50]];
const contours_SON_CanAM4=[
[220,[[-88,1.26],[-81.1,1.31],[-69,1.48],[-58.5,1.7],[-56.3,1.86],[-50.6,2.07],[-46.2,2.11],[-43,2.08],[-41.5,1.85],[-45.5,1.7],[-37.9,1.48],[-27.1,1.4],[-12.5,1.42],[11.7,1.43]]],
[220,[[35.2,1.47],[47.2,1.57],[56.8,1.65],[60,1.56],[60.6,1.48],[65,1.31],[70.1,1]]],
[200,[[-88,1.78],[-82.1,2.01],[-82.1,2.18],[-88,2.26]]],
[220,[[74.6,2.25],[88,2.23]]],
[220,[[51,2.22],[47.6,2.18],[48.5,1.85],[51,1.78],[57.4,1.72],[74,1.85],[80.3,1.96],[88,1.99]]],
[200,[[-8,2.06],[-16.6,2],[-8.7,1.96],[3.9,1.94],[15.5,1.96],[20.8,2.01],[16.1,2.04]]],
[220,[[-88,2.61],[-74.1,2.58]]],
[220,[[-51.6,2.46],[-40.4,2.4],[-30.3,2.32],[0.2,2.3],[34.5,2.32],[47.2,2.4],[63.7,2.49],[88,2.53]]],
[240,[[-88,2.96],[-82.4,2.88],[-77.3,2.86],[-74.1,2.78],[-58.2,2.69],[-34.7,2.56]]],
[240,[[-12.2,2.46],[9.1,2.46],[24.4,2.49],[40.9,2.58],[56.1,2.67],[75.2,2.72],[88,2.73]]],
[260,[[-67.8,3],[-65.2,2.94],[-45.5,2.82],[-27.7,2.71],[-13.8,2.63],[11.7,2.64],[35.8,2.71]]],
[260,[[55.9,2.83],[68.8,2.9],[77.7,2.96],[79.3,3]]],
[280,[[-45.5,3],[-34.7,2.95]]],
[280,[[-16.6,2.84],[28.2,2.83],[39.6,2.92],[51,3]]]];
const labels_SON_CanAM4=[[220,23.5,1.44,0],[220,62.7,2.24,0],[200,4,2.06,0],[220,-63,2.52,18],[240,-23.9,2.48,15],[260,45.3,2.78,-42],[280,-26.5,2.88,50]];

const fields=[[field_DJF_ERA5,field_DJF_CanAM5,field_DJF_CanAM4],[field_MAM_ERA5,field_MAM_CanAM5,field_MAM_CanAM4],[field_JJA_ERA5,field_JJA_CanAM5,field_JJA_CanAM4],[field_SON_ERA5,field_SON_CanAM5,field_SON_CanAM4]];
const contourSets=[[contours_DJF_ERA5,contours_DJF_CanAM5,contours_DJF_CanAM4],[contours_MAM_ERA5,contours_MAM_CanAM5,contours_MAM_CanAM4],[contours_JJA_ERA5,contours_JJA_CanAM5,contours_JJA_CanAM4],[contours_SON_ERA5,contours_SON_CanAM5,contours_SON_CanAM4]];
const labelSets=[[labels_DJF_ERA5,labels_DJF_CanAM5,labels_DJF_CanAM4],[labels_MAM_ERA5,labels_MAM_CanAM5,labels_MAM_CanAM4],[labels_JJA_ERA5,labels_JJA_CanAM5,labels_JJA_CanAM4],[labels_SON_ERA5,labels_SON_CanAM5,labels_SON_CanAM4]];

const NS='http://www.w3.org/2000/svg';
const svg=document.getElementById('chart');
const colLeft=[195.4,822.4,1450.3];
const rowTop=[55,340,624.3,908.3];
const panelW=575.6, panelH=240.7;
const tickLabelShift=[[7,7,7,3,6,8,-9],[9,9,9,5,9,10,-8],[12,12,12,9,12,13,-5]];
const rowLabelY=[173,469,756,1030];
const pressureLabelY=[177,461,745,1029];
const titleX=[482.7,1110,1736];
const refine=3;

function make(tag,attrs,parent,txt){
  const e=document.createElementNS(NS,tag);
  for(const k in attrs)e.setAttribute(k,attrs[k]);
  if(txt!==undefined)e.textContent=txt;
  (parent||svg).appendChild(e);
  return e;
}
function xAxis(c){return lat=>colLeft[c]+(lat+90)/180*panelW;}
function yAxis(r){return lg=>rowTop[r]+(lg-1)/2*panelH;}

function cubic(a,b,c,d,t){
  return 0.5*(2*b+(c-a)*t+(2*a-5*b+4*c-d)*t*t+(3*b-a-3*c+d)*t*t*t);
}
function refineField(field){
  const ni=(lats.length-1)*refine+1,nj=(levels.length-1)*refine+1;
  const rowAt=j=>field[Math.max(0,Math.min(levels.length-1,j))];
  const out=[];
  for(let j=0;j<nj;j++){
    const j0=Math.min(levels.length-2,Math.floor(j/refine)),tj=j/refine-j0;
    const row=[];
    for(let i=0;i<ni;i++){
      const i0=Math.min(lats.length-2,Math.floor(i/refine)),ti=i/refine-i0;
      const across=rw=>{
        const at=k=>rw[Math.max(0,Math.min(lats.length-1,k))];
        return cubic(at(i0-1),at(i0),at(i0+1),at(i0+2),ti);
      };
      row.push(cubic(across(rowAt(j0-1)),across(rowAt(j0)),across(rowAt(j0+1)),across(rowAt(j0+2)),tj));
    }
    out.push(row);
  }
  return out;
}
function refinedCoord(arr,k){
  const i0=Math.min(arr.length-2,Math.floor(k/refine)),t=k/refine-i0;
  return arr[i0]+(arr[i0+1]-arr[i0])*t;
}
function clipPolygon(poly,limit,keepAbove){
  const out=[];
  for(let i=0;i<poly.length;i++){
    const a=poly[i],b=poly[(i+1)%poly.length];
    const ina=keepAbove?a[2]>=limit:a[2]<=limit;
    const inb=keepAbove?b[2]>=limit:b[2]<=limit;
    if(ina)out.push(a);
    if(ina!==inb){
      const t=(limit-a[2])/(b[2]-a[2]);
      out.push([a[0]+t*(b[0]-a[0]),a[1]+t*(b[1]-a[1]),limit]);
    }
  }
  return out;
}
function bandPath(grid,xs,ys,lo,hi){
  const parts=[];
  const fmt=q=>q[0].toFixed(1)+' '+q[1].toFixed(1);
  for(let j=0;j<grid.length-1;j++){
    for(let i=0;i<grid[0].length-1;i++){
      const a=grid[j][i],b=grid[j][i+1],c=grid[j+1][i+1],e=grid[j+1][i];
      const mn=Math.min(a,b,c,e),mx=Math.max(a,b,c,e);
      if((lo!==null&&mx<lo)||(hi!==null&&mn>hi))continue;
      const p=[[xs[i],ys[j],a],[xs[i+1],ys[j],b],[xs[i+1],ys[j+1],c],[xs[i],ys[j+1],e]];
      if((lo===null||mn>=lo)&&(hi===null||mx<=hi)){
        parts.push('M'+p.map(fmt).join('L')+'Z');
        continue;
      }
      const m=[(xs[i]+xs[i+1])/2,(ys[j]+ys[j+1])/2,(a+b+c+e)/4];
      for(let k=0;k<4;k++){
        let tri=[p[k],p[(k+1)%4],m];
        if(lo!==null)tri=clipPolygon(tri,lo,true);
        if(tri.length&&hi!==null)tri=clipPolygon(tri,hi,false);
        if(tri.length>2)parts.push('M'+tri.map(fmt).join('L')+'Z');
      }
    }
  }
  return parts.join('');
}
function smoothPath(pts){
  if(pts.length<3)return 'M'+pts.map(q=>q[0].toFixed(1)+' '+q[1].toFixed(1)).join('L');
  const closed=pts[0][0]===pts[pts.length-1][0]&&pts[0][1]===pts[pts.length-1][1];
  const n=pts.length;
  const get=i=>{
    if(closed)return pts[((i%(n-1))+(n-1))%(n-1)];
    return pts[Math.max(0,Math.min(n-1,i))];
  };
  let d='M'+pts[0][0].toFixed(1)+' '+pts[0][1].toFixed(1);
  const s=0.13;
  for(let i=0;i<n-1;i++){
    const p0=get(i-1),p1=get(i),p2=get(i+1),p3=get(i+2);
    d+='C'+(p1[0]+(p2[0]-p0[0])*s).toFixed(1)+' '+(p1[1]+(p2[1]-p0[1])*s).toFixed(1)+' '+
      (p2[0]-(p3[0]-p1[0])*s).toFixed(1)+' '+(p2[1]-(p3[1]-p1[1])*s).toFixed(1)+' '+
      p2[0].toFixed(1)+' '+p2[1].toFixed(1);
  }
  return d;
}

const defs=make('defs',{});

seasons.forEach((season,r)=>{
  const rl=make('text',{transform:'translate(56,'+rowLabelY[r]+') rotate(-90)','text-anchor':'middle','font-size':52},svg,season);
  
  
  const pl=make('text',{transform:'translate(94,'+pressureLabelY[r]+') rotate(-90)','text-anchor':'middle','font-size':26.3},svg,'Pressure (hPa)');
  
  

  models.forEach((model,c)=>{
    const X=xAxis(c),Y=yAxis(r);
    const g=make('g',{});
    
    
    const cid='clip-'+r+'-'+c;
    const cp=make('clipPath',{id:cid},defs);
    make('rect',{x:colLeft[c],y:rowTop[r],width:panelW,height:panelH},cp);
    const bands=c===0?tempLevels:diffLevels;
    const colors=c===0?tempColors:diffColors;
    const fillGroup=make('g',{'clip-path':'url(#'+cid+')'},g);
    
    
    const grid=refineField(fields[r][c]);
    const xs=grid[0].map((_,i)=>X(refinedCoord(lats,i)));
    const logLevels=levels.map(v=>Math.log10(v));
    const ys=grid.map((_,j)=>Y(refinedCoord(logLevels,j)));
    colors.forEach((color,b)=>{
      const lo=b===0?null:bands[b];
      const hi=b===colors.length-1?null:bands[b+1];
      const d=bandPath(grid,xs,ys,lo,hi);
      if(d){
        const path=make('path',{d:d,fill:color,stroke:color,'stroke-width':0.6},fillGroup);
        
        
      }
    });
    const lineGroup=make('g',{'clip-path':'url(#'+cid+')'},g);
    
    
    contourSets[r][c].forEach(seg=>{
      const pts=seg[1].map(q=>[X(q[0]),Y(q[1])]);
      const line=make('path',{d:smoothPath(pts),fill:'none',stroke:'#000','stroke-width':2.8,'stroke-linejoin':'round'},lineGroup);
      
      
    });
    labelSets[r][c].forEach(lb=>{
      const t=make('text',{transform:'translate('+X(lb[1]).toFixed(1)+','+Y(lb[2]).toFixed(1)+') rotate('+lb[3]+')','text-anchor':'middle','dominant-baseline':'central','font-size':25.3},lineGroup,String(lb[0]));
      
      
    });
    const frame=make('rect',{x:colLeft[c],y:rowTop[r],width:panelW,height:panelH,fill:'none',stroke:'#000','stroke-width':2},g);
    
    
    const ticks=make('g',{stroke:'#000'},g);
    
    
    latTicks.forEach(v=>{
      make('line',{x1:X(v),x2:X(v),y1:rowTop[r]+panelH,y2:rowTop[r]+panelH+9,'stroke-width':2},ticks);
    });
    pressureTicks.forEach(v=>{
      const y=Y(Math.log10(v));
      make('line',{x1:colLeft[c]-9,x2:colLeft[c],y1:y,y2:y,'stroke-width':2},ticks);
    });
    pressureMinorTicks.forEach(v=>{
      const y=Y(Math.log10(v));
      make('line',{x1:colLeft[c]-5,x2:colLeft[c],y1:y,y2:y,'stroke-width':1.5},ticks);
    });
    if(c===0){
      pressureTicks.forEach(v=>{
        const t=make('text',{x:176,y:Y(Math.log10(v))+9,'text-anchor':'end','font-size':25.6},g,String(v));
        
        
      });
    }
    if(r===3){
      latTicks.forEach((v,i)=>{
        const t=make('text',{x:X(v)+tickLabelShift[c][i],y:1183,'text-anchor':'middle','font-size':25.6},g,latTickLabels[i]);
        
        
      });
    }
  });
});

columnTitles.forEach((title,c)=>{
  const t=make('text',{x:titleX[c],y:40,'text-anchor':'middle','font-size':31.2},svg,title);
  
  
});

function colorbar(name,x0,x1,tipL,tipR,levelsArr,colors,ticks,title,titleX){
  const g=make('g',{});
  
  
  const top=1209,bot=1239,mid=1224;
  const sx=v=>x0+(v-levelsArr[0])/(levelsArr[levelsArr.length-1]-levelsArr[0])*(x1-x0);
  make('polygon',{points:tipL+','+mid+' '+x0+','+top+' '+x0+','+bot,fill:colors[0]},g);
  make('polygon',{points:tipR+','+mid+' '+x1+','+top+' '+x1+','+bot,fill:colors[colors.length-1]},g);
  colors.forEach((color,i)=>{
    const a=sx(levelsArr[i]),b=sx(levelsArr[i+1]);
    const seg=make('rect',{x:a,y:top,width:b-a+0.5,height:bot-top,fill:color},g);
    
    
  });
  const outline=make('polygon',{points:tipL+','+mid+' '+x0+','+top+' '+x1+','+top+' '+tipR+','+mid+' '+x1+','+bot+' '+x0+','+bot,fill:'none',stroke:'#000','stroke-width':2},g);
  
  
  ticks.forEach(v=>{
    make('line',{x1:sx(v),x2:sx(v),y1:bot,y2:bot+9,stroke:'#000','stroke-width':2},g);
    const t=make('text',{x:sx(v),y:1277,'text-anchor':'middle','font-size':25.6},g,String(v).replace('-','\u2212'));
    
    
  });
  const lab=make('text',{x:titleX,y:1299,'text-anchor':'middle','font-size':27},g,title);
  
  
}
colorbar('temperature',189,751,161,780,tempLevels,tempColors,tempTicks,'T (K)',470);
colorbar('temperature-difference',1132.7,1694,1104,1723.5,diffLevels,diffColors,diffTicks,'\u0394 T (K)',1413);
</script>
</body>
</html>
